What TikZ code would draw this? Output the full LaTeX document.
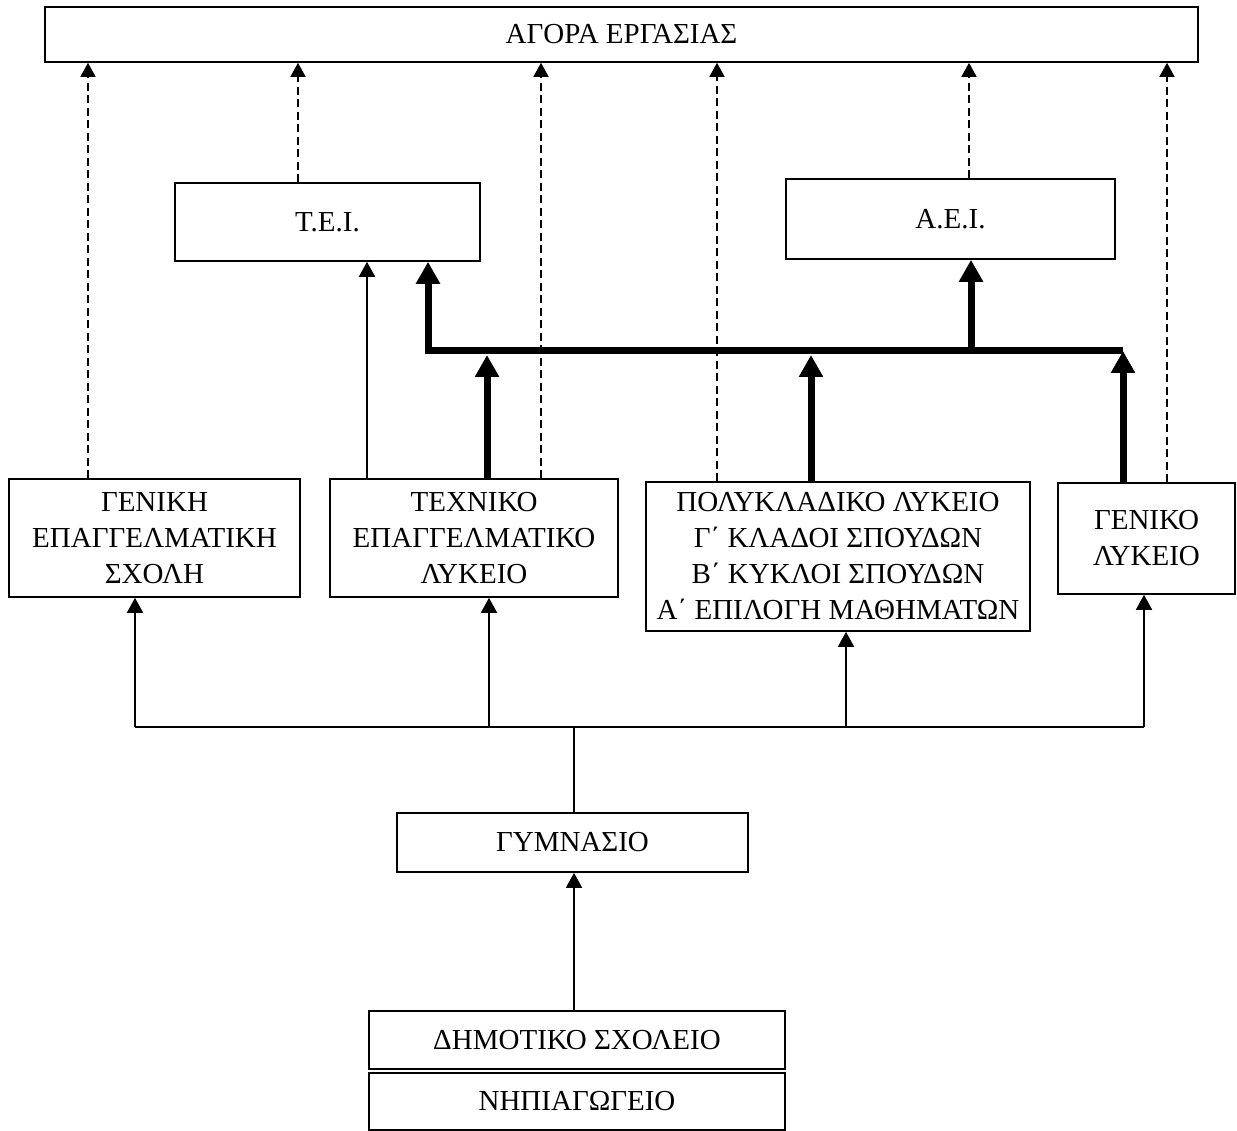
\documentclass[tikz,border=0pt]{standalone}
\usepackage{fontspec}
\setmainfont{Liberation Serif}
\usetikzlibrary{arrows.meta}
\tikzset{
  box/.style={draw, line width=1.6pt, rectangle, inner sep=0pt, align=center,
    font=\fontsize{29}{36}\selectfont},
  link/.style={line width=1.6pt},
  linkarrow/.style={line width=1.6pt, -{Triangle[width=16pt,length=15pt]}},
  dashlink/.style={line width=1.4pt, dash pattern=on 8pt off 4.5pt,
    -{Triangle[width=15pt,length=14pt]}},
  boldlink/.style={line width=7pt, -{Triangle[width=23pt,length=22pt]}},
}
\begin{document}
\begin{tikzpicture}[x=1pt, y=-1pt]
\useasboundingbox (0,0) rectangle (1237,1131);

% boxes
\node[box, minimum width=1153pt, minimum height=55pt] (agora) at (621.5,34.5) {ΑΓΟΡΑ ΕΡΓΑΣΙΑΣ};
\node[box, minimum width=305pt, minimum height=78pt] (tei) at (327.5,222) {Τ.Ε.Ι.};
\node[box, minimum width=329pt, minimum height=80pt] (aei) at (950.5,219) {Α.Ε.Ι.};
\node[box, minimum width=291pt, minimum height=118pt] (ges) at (154.5,538) {ΓΕΝΙΚΗ\\ΕΠΑΓΓΕΛΜΑΤΙΚΗ\\ΣΧΟΛΗ};
\node[box, minimum width=288pt, minimum height=118pt] (tel) at (474,538) {ΤΕΧΝΙΚΟ\\ΕΠΑΓΓΕΛΜΑΤΙΚΟ\\ΛΥΚΕΙΟ};
\node[box, minimum width=384pt, minimum height=149pt] (pol) at (838,556.5)
  {ΠΟΛΥΚΛΑΔΙΚΟ ΛΥΚΕΙΟ\\Γ΄ ΚΛΑΔΟΙ ΣΠΟΥΔΩΝ\\Β΄ ΚΥΚΛΟΙ ΣΠΟΥΔΩΝ\\Α΄ ΕΠΙΛΟΓΗ ΜΑΘΗΜΑΤΩΝ};
\node[box, minimum width=177pt, minimum height=111pt] (gen) at (1146.5,538.5) {ΓΕΝΙΚΟ\\ΛΥΚΕΙΟ};
\node[box, minimum width=351pt, minimum height=59pt] (gym) at (572.5,842.5) {ΓΥΜΝΑΣΙΟ};
\node[box, minimum width=416pt, minimum height=58pt] (dim) at (577,1040) {ΔΗΜΟΤΙΚΟ ΣΧΟΛΕΙΟ};
\node[box, minimum width=416pt, minimum height=57pt] (nip) at (577,1101.5) {ΝΗΠΙΑΓΩΓΕΙΟ};

% columns of the dashed links to the labour market
\coordinate (d1) at (88,0);
\coordinate (d2) at (298,0);
\coordinate (d3) at (541,0);
\coordinate (d4) at (717,0);
\coordinate (d5) at (969,0);
\coordinate (d6) at (1167,0);
\draw[dashlink] (ges.north -| d1) -- (agora.south -| d1);
\draw[dashlink] (tei.north -| d2) -- (agora.south -| d2);
\draw[dashlink] (tel.north -| d3) -- (agora.south -| d3);
\draw[dashlink] (pol.north -| d4) -- (agora.south -| d4);
\draw[dashlink] (aei.north -| d5) -- (agora.south -| d5);
\draw[dashlink] (gen.north -| d6) -- (agora.south -| d6);

% thin link from the technical lyceum to T.E.I.
\coordinate (t1) at (367,0);
\draw[linkarrow] (tel.north -| t1) -- (tei.south -| t1);

% heavy bus towards T.E.I. and A.E.I.
\coordinate (busL) at (428,351);
\coordinate (busR) at (1123,351);
\coordinate (busA) at (971,351);
\coordinate (busT) at (487,355);
\coordinate (busP) at (811,355);
\draw[boldlink] (busR) -- (busL) -- (busL |- tei.south);
\draw[boldlink] (busA) -- (busA |- aei.south);
\draw[boldlink] (tel.north -| busT) -- (busT);
\draw[boldlink] (pol.north -| busP) -- (busP);
\draw[boldlink] (gen.north -| busR) -- (busR);

% distribution from the gymnasium
\coordinate (lowbus) at (574,727);
\coordinate (bL) at (135,727);
\coordinate (bT) at (489,727);
\coordinate (bP) at (846,727);
\coordinate (bR) at (1144,727);
\draw[link] (gym.north -| lowbus) -- (lowbus);
\draw[link] (bL) -- (bR);
\draw[linkarrow] (bL) -- (bL |- ges.south);
\draw[linkarrow] (bT) -- (bT |- tel.south);
\draw[linkarrow] (bP) -- (bP |- pol.south);
\draw[linkarrow] (bR) -- (bR |- gen.south);

% primary school to gymnasium
\draw[linkarrow] (dim.north -| lowbus) -- (gym.south -| lowbus);
\end{tikzpicture}
\end{document}
